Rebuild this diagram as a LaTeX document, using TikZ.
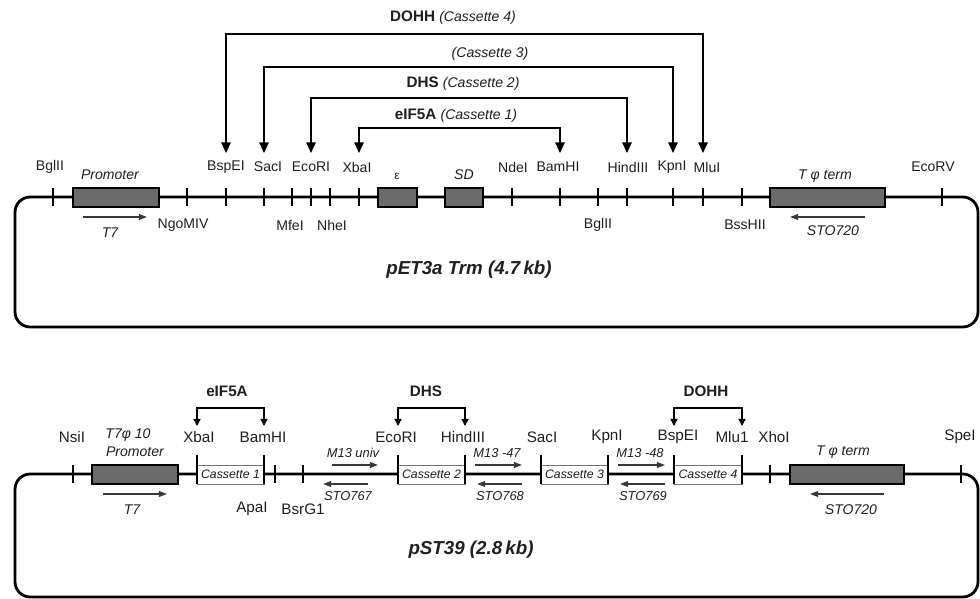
\documentclass[tikz,border=0pt]{standalone}
\usepackage{fontspec}
\setmainfont{Liberation Sans}
\usetikzlibrary{arrows.meta}

\definecolor{boxgray}{gray}{0.42}
\definecolor{ink}{gray}{0.12}
\definecolor{primergray}{gray}{0.22}

\newcommand\casnote[1]{{\mdseries\itshape\fontsize{12}{14}\selectfont (Cassette #1)}}

\tikzset{
  backbone/.style={line width=2.4pt,rounded corners=13pt},
  site/.style={line width=1pt},
  gene/.style={draw,line width=1.3pt,fill=boxgray},
  cbox/.style={draw=black!55,line width=0.6pt,fill=white},
  lbl/.style={text=ink,inner sep=0pt,font=\fontsize{12}{14}\selectfont},
  lblb/.style={text=ink,inner sep=0pt,font=\fontsize{13}{15}\selectfont},
  itl/.style={text=ink,inner sep=0pt,font=\fontsize{12}{14}\selectfont\itshape},
  itls/.style={text=ink,inner sep=0pt,font=\fontsize{11}{13}\selectfont\itshape},
  cas/.style={text=ink,inner sep=0pt,font=\fontsize{10.5}{12}\selectfont\itshape},
  head/.style={text=ink,inner sep=0pt,font=\fontsize{13}{15}\selectfont\bfseries},
  plasmid/.style={text=ink,inner sep=0pt,font=\fontsize{16}{18}\selectfont\bfseries\itshape},
  cutarr/.style={line width=1.2pt,arrows={Triangle[width=8pt,length=9pt]-Triangle[width=8pt,length=9pt]}},
  brk/.style={line width=1.1pt,arrows={Triangle[width=6pt,length=6pt]-Triangle[width=6pt,length=6pt]}},
  primer/.style={draw=primergray,line width=1.1pt,-{Triangle[width=5pt,length=7pt]}},
}

\begin{document}
\begin{tikzpicture}[x=0.03cm,y=-0.03cm]
  \useasboundingbox (0,0) rectangle (980,599);

  % ---- pET3a Trm ----
  \draw[backbone] (15,197) rectangle (978,327);
  \foreach \n/\x/\lx/\t in {aBglII/53/50/BglII, aBspEI/226/226/BspEI, aSacI/264/268/SacI,
      aEcoRI/311/311/EcoRI, aXbaI/359/357/XbaI, aNdeI/512/513/NdeI, aBamHI/560/558/BamHI,
      aHindIII/627/628/HindIII, aKpnI/673/672/KpnI, aMluI/703/707/MluI, aEcoRV/942/933/EcoRV}
  {
    \coordinate (\n) at (\x,197);
    \draw[site] (\n) +(0,-9) -- +(0,9);
    \node[lbl] (l\n) at (\lx,167) {\t};
  }
  \foreach \n/\x/\lx/\t in {aNgoMIV/187/183/NgoMIV, aMfeI/292/290/MfeI, aNheI/330/332/NheI,
      aBglIIb/598/598/BglII, aBssHII/742/745/BssHII}
  {
    \coordinate (\n) at (\x,197);
    \draw[site] (\n) +(0,-9) -- +(0,9);
    \node[lbl] (l\n) at (\lx,225) {\t};
  }
  \draw[gene] (73,188) rectangle (159,207);
  \draw[gene] (378,188) rectangle (417,207);
  \draw[gene] (445,188) rectangle (483,207);
  \draw[gene] (770,188) rectangle (885,207);
  \node[itl] (aprom) at (110,175) {Promoter};
  \node[lbl] (aeps) at (397,176) {\fontsize{10}{12}\selectfont ε};
  \node[itl] (asd) at (464,175) {SD};
  \node[itl] (aterm) at (825,176) {T φ term};

  \draw[primer] (83,217) -- (147,217);
  \node[itl] (at7) at (110,233) {T7};
  \draw[primer] (865,217) -- (790,217);
  \node[itl] (asto) at (833,231) {STO720};

  \node[plasmid] (pet) at (469,270) {pET3a Trm (4.7\,kb)};

  % cassette sites
  \node[head] (hdohh) at (453,18) {DOHH \casnote{4}};
  \node[head] (hc3) at (490,54) {\casnote{3}};
  \node[head] (hdhs) at (463,84) {DHS \casnote{2}};
  \node[head] (heif) at (456,116) {eIF5A \casnote{1}};
  \draw[cutarr] (aBspEI |- 0,153) -- (aBspEI |- 0,34) -- (aMluI |- 0,34) -- (aMluI |- 0,153);
  \draw[cutarr] (aSacI |- 0,153) -- (aSacI |- 0,67) -- (aKpnI |- 0,67) -- (aKpnI |- 0,153);
  \draw[cutarr] (aEcoRI |- 0,153) -- (aEcoRI |- 0,98) -- (aHindIII |- 0,98) -- (aHindIII |- 0,153);
  \draw[cutarr] (aXbaI |- 0,153) -- (aXbaI |- 0,128) -- (aBamHI |- 0,128) -- (aBamHI |- 0,153);

  % ---- pST39 ----
  \draw[backbone] (15,474) rectangle (978,597);
  \foreach \n/\x in {bNsiI/73, bApaI/275, bBsrG/303, bXhoI/770, bSpeI/961}
  {
    \coordinate (\n) at (\x,474);
    \draw[site] (\n) +(0,-9) -- +(0,9);
  }
  \draw[gene] (92,465) rectangle (178,484);
  \draw[gene] (790,465) rectangle (904,484);
  \foreach \l/\r/\k/\ln/\rn in {197/264/1/bXbaI/bBamHI, 398/465/2/bEcoRI/bHindIII,
      541/608/3/bSacI/bKpnI, 674/742/4/bBspEI/bMlu}
  {
    \coordinate (\ln) at (\l,474);
    \coordinate (\rn) at (\r,474);
    \draw[cbox] (\l,465) rectangle (\r,484);
    \draw[site] (\ln) +(0,-19) -- +(0,10);
    \draw[site] (\rn) +(0,-19) -- +(0,10);
    \node[cas] (cas\k) at ({(\l+\r)/2},474.5) {Cassette \k};
  }
  \foreach \lx/\t [count=\i] in {72/NsiI, 199/XbaI, 263/BamHI, 396/EcoRI, 463/HindIII,
      542/SacI, 607/KpnI, 678/BspEI, 732/Mlu1, 774/XhoI, 960/SpeI}
    \node[lblb] (bl\i) at (\lx,437) {\t};
  \node[lblb] (blapa) at (252,509) {ApaI};
  \node[lblb] (blbsr) at (303,509) {BsrG1};

  \node[itl] (bprom1) at (128,435) {T7φ 10};
  \node[itl] (bprom2) at (135,452) {Promoter};
  \draw[primer] (103,494) -- (167,494);
  \node[itl] (bt7) at (132,510) {T7};
  \node[itl] (bterm) at (843,452) {T φ term};
  \draw[primer] (884,494) -- (810,494);
  \node[itl] (bsto720) at (851,510) {STO720};

  % primers
  \draw[primer] (332,465) -- (378,465);
  \node[itls] (pm1) at (353,453) {M13 univ};
  \draw[primer] (475,465) -- (522,465);
  \node[itls] (pm2) at (497,453) {M13 -47};
  \draw[primer] (618,465) -- (665,465);
  \node[itls] (pm3) at (640,453) {M13 -48};
  \draw[primer] (368,484) -- (323,484);
  \node[itls] (ps1) at (348,496) {STO767};
  \draw[primer] (522,484) -- (477,484);
  \node[itls] (ps2) at (500,496) {STO768};
  \draw[primer] (665,484) -- (620,484);
  \node[itls] (ps3) at (643,496) {STO769};

  \node[head] (heif2) at (227,391) {eIF5A};
  \node[head] (hdhs2) at (426,391) {DHS};
  \node[head] (hdohh2) at (706,391) {DOHH};
  \draw[brk] (bXbaI |- 0,426) -- (bXbaI |- 0,408) -- (bBamHI |- 0,408) -- (bBamHI |- 0,426);
  \draw[brk] (bEcoRI |- 0,426) -- (bEcoRI |- 0,408) -- (bHindIII |- 0,408) -- (bHindIII |- 0,426);
  \draw[brk] (bBspEI |- 0,426) -- (bBspEI |- 0,408) -- (bMlu |- 0,408) -- (bMlu |- 0,426);

  \node[plasmid] (pst) at (471,550) {pST39 (2.8\,kb)};
\end{tikzpicture}
\end{document}
